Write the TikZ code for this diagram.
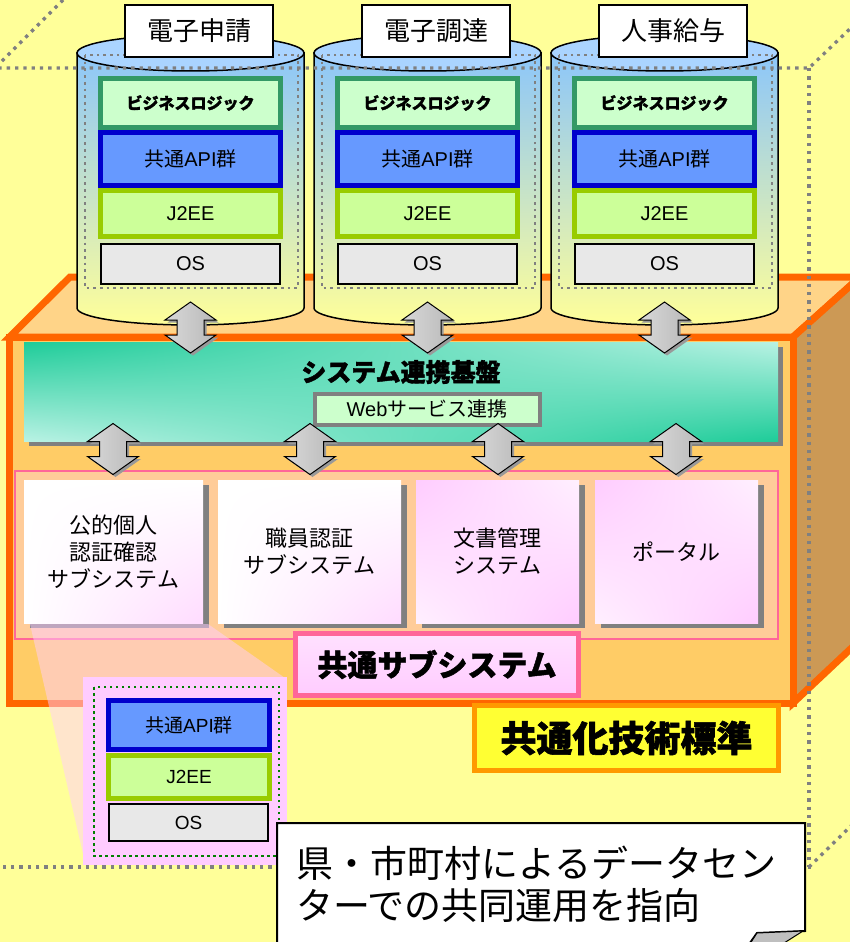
\documentclass[tikz,border=0pt]{standalone}
\usepackage{fontspec}
\setmainfont{Noto Sans CJK JP}
\newfontfamily\heavy{Noto Sans CJK JP}[BoldFeatures={FakeBold=1.6}]
\newfontfamily\arial{Liberation Sans}
\usetikzlibrary{shadows,shadings}
\definecolor{bgyellow}{RGB}{255,255,153}
\definecolor{boxorange}{RGB}{255,102,0}
\definecolor{frontorange}{RGB}{255,204,102}
\definecolor{toporange}{RGB}{255,212,136}
\definecolor{sideorange}{RGB}{204,153,85}
\definecolor{cylblue}{RGB}{140,198,250}
\definecolor{cyltop}{RGB}{170,212,255}
\definecolor{logicgreen}{RGB}{51,153,102}
\definecolor{logicfill}{RGB}{204,255,204}
\definecolor{apiblue}{RGB}{0,0,204}
\definecolor{apifill}{RGB}{102,153,255}
\definecolor{jeegreen}{RGB}{153,204,0}
\definecolor{jeefill}{RGB}{204,255,153}
\definecolor{osfill}{RGB}{232,232,232}
\definecolor{tealdark}{RGB}{30,204,153}
\definecolor{teallight}{RGB}{185,242,228}
\definecolor{subpink}{RGB}{255,102,153}
\definecolor{subfill}{RGB}{255,204,153}
\definecolor{pinklight}{RGB}{255,204,255}
\definecolor{stdorange}{RGB}{255,153,0}
\definecolor{stdyellow}{RGB}{255,255,51}
\definecolor{dotgray}{RGB}{128,128,128}
\definecolor{dotgreen}{RGB}{0,128,0}

\begin{document}
\begin{tikzpicture}[x=1pt,y=-1pt,
	layer/.style={draw,line width=5pt,minimum width=180pt,inner sep=0pt,font=\fontsize{20}{24}\selectfont},
	logic/.style={layer,draw=logicgreen,fill=logicfill,minimum height=49pt,font=\fontsize{16}{18}\selectfont\heavy\bfseries},
	api/.style={layer,draw=apiblue,fill=apifill,minimum height=53pt},
	jee/.style={layer,draw=jeegreen,fill=jeefill,minimum height=46pt},
	osbox/.style={layer,line width=2pt,draw=black,fill=osfill,minimum width=179pt,minimum height=40pt},
	sysname/.style={draw,line width=1.5pt,fill=white,minimum width=148pt,minimum height=52pt,font=\fontsize{26}{30}\selectfont},
	dblarrow/.pic={
		\draw[line width=1pt,left color=gray!30,middle color=gray!8,right color=gray!55,
			drop shadow={shadow xshift=2.5pt,shadow yshift=-2.5pt,fill=gray!80,opacity=1}]
			(0,-25.5) -- (25.5,-7.5) -- (13.5,-7.5) -- (13.5,7.5) -- (25.5,7.5) -- (0,25.5)
			-- (-25.5,7.5) -- (-13.5,7.5) -- (-13.5,-7.5) -- (-25.5,-7.5) -- cycle;
	},
	subbox/.style={minimum height=143pt,align=center,inner sep=0pt,font=\fontsize{22}{27}\selectfont,
		drop shadow={shadow xshift=6pt,shadow yshift=-5pt,fill=dotgray,opacity=1}},
	cubeline/.style={dotgray,line width=3.3pt,dash pattern=on 3.3pt off 5pt}]
	\useasboundingbox (0,0) rectangle (850,942);
	\fill[bgyellow] (0,0) rectangle (850,942);
	\draw[boxorange,line width=7pt,fill=toporange] (9.5,337) -- (70,277) -- (860,277) -- (793,337) -- cycle;
	\draw[boxorange,line width=7pt,fill=sideorange] (793,337) -- (860,277) -- (860,640) -- (793,703) -- cycle;
	\node[draw=boxorange,line width=7pt,fill=frontorange,minimum width=783.5pt,minimum height=366pt,inner sep=0pt] (platform) at (401.25,520) {};
	\foreach \n/\x/\t in {A/77/電子申請,B/314/電子調達,C/551/人事給与}{
		\draw[line width=1.5pt,top color=cylblue,middle color=cylblue!25!bgyellow,bottom color=bgyellow]
			(\x,53) -- (\x,308) arc[start angle=180,end angle=0,x radius=113.5,y radius=17] -- ({\x+227},53) -- cycle;
		\draw[line width=1.5pt,fill=cyltop] ({\x+113.5},53) ellipse[x radius=113.5,y radius=18];
		\draw[dotgray,line width=2.7pt,dash pattern=on 2.7pt off 4pt] ({\x+8},55) rectangle ({\x+221},288);
		\node[sysname] (name\n) at ({\x+122},31) {\t};
		\node[logic] (logic\n) at ({\x+113.5},103) {ビジネスロジック};
		\node[api] (api\n) at ({\x+113.5},159) {共通{\arial API}群};
		\node[jee] (jee\n) at ({\x+113.5},213.5) {\arial J2EE};
		\node[osbox] (os\n) at ({\x+113.5},264) {\arial OS};
	}
	\node[minimum width=754pt,minimum height=99pt,shade,upper left=tealdark,lower right=tealdark,
		upper right=teallight,lower left=teallight,
		drop shadow={shadow xshift=5pt,shadow yshift=-5pt,fill=dotgray,opacity=1}] (bar) at (401,391.5) {};
	\node[font=\fontsize{25}{30}\selectfont\heavy\bfseries] (bartitle) at (401,372) {システム連携基盤};
	\node[draw=dotgray,line width=4pt,fill=logicfill,minimum width=225pt,minimum height=31pt,inner sep=0pt,
		font=\fontsize{20}{24}\selectfont] (web) at (427,409) {{\arial Web}サービス連携};
	\foreach \x in {190.5,427.5,664.5}
		\pic at (\x,327.5) {dblarrow};
	\node[draw=subpink,line width=1.5pt,fill=subfill,minimum width=763pt,minimum height=168pt] (subgroup) at (396.5,555) {};
	\foreach \x in {113,310,498,676}
		\pic at (\x,449) {dblarrow};
	\node[subbox,minimum width=179pt,shade,upper left=white,upper right=white,lower left=white,lower right=pinklight!70] (sub1) at (113.5,551.5) {公的個人\\認証確認\\サブシステム};
	\node[subbox,minimum width=183pt,shade,upper left=white,upper right=white,lower left=white,lower right=pinklight!70] (sub2) at (309.5,551.5) {職員認証\\サブシステム};
	\node[subbox,minimum width=163pt,shade,upper left=pinklight,upper right=pinklight!30,lower left=pinklight!30,lower right=pinklight] (sub3) at (497.5,551.5) {文書管理\\システム};
	\node[subbox,minimum width=163pt,shade,upper left=pinklight,upper right=pinklight!30,lower left=pinklight!30,lower right=pinklight] (sub4) at (676.5,551.5) {ポータル};
	\node[draw=subpink,line width=5pt,top color=pinklight!60,middle color=white,bottom color=pinklight,minimum width=283pt,minimum height=62pt,
		font=\fontsize{30}{34}\selectfont\heavy\bfseries] (common) at (437,664.5) {共通サブシステム};
	\fill[pinklight,opacity=0.5] (30,624) -- (208,624) -- (285,678) -- (84,858) -- cycle;
	\node[fill=pinklight,minimum width=204pt,minimum height=188pt] (zoompanel) at (185,771) {};
	\draw[dotgreen,line width=2.5pt,dash pattern=on 2.5pt off 3.5pt] (94,687) rectangle (279,856);
	\node[api,minimum width=161pt,minimum height=49pt,font=\fontsize{19}{22}\selectfont] (zapi) at (189,725) {共通{\arial API}群};
	\node[jee,minimum width=161pt,minimum height=43pt,font=\fontsize{19}{22}\selectfont] (zjee) at (189,777) {\arial J2EE};
	\node[osbox,minimum width=159pt,minimum height=37pt,font=\fontsize{19}{22}\selectfont] (zos) at (188.5,822.5) {\arial OS};
	\node[draw=stdorange,line width=5pt,top color=stdyellow,middle color=white,bottom color=stdyellow,minimum width=304pt,minimum height=65pt,
		font=\fontsize{36}{40}\selectfont\heavy\bfseries] (standard) at (626.5,738) {共通化技術標準};
	\draw[cubeline] (63,0) -- (-5,68) -- (809,68) -- (856,23);
	\draw[cubeline] (809,68) -- (809,867) -- (-5,867);
	\draw[cubeline] (809,867) -- (856,821);
	\draw[line width=2pt,fill=white] (277,960) -- (277,823) -- (805,823) -- (805,931) -- (757,933) -- (738,960);
	\draw[line width=1pt,fill=gray!50] (757,933) -- (803,931) -- (773,950) -- (746,950) -- cycle;
	\node[anchor=west,align=left,inner sep=0pt,font=\fontsize{37}{42}\selectfont] (note) at (296,884) {県・市町村によるデータセン\\ターでの共同運用を指向};
\end{tikzpicture}
\end{document}
